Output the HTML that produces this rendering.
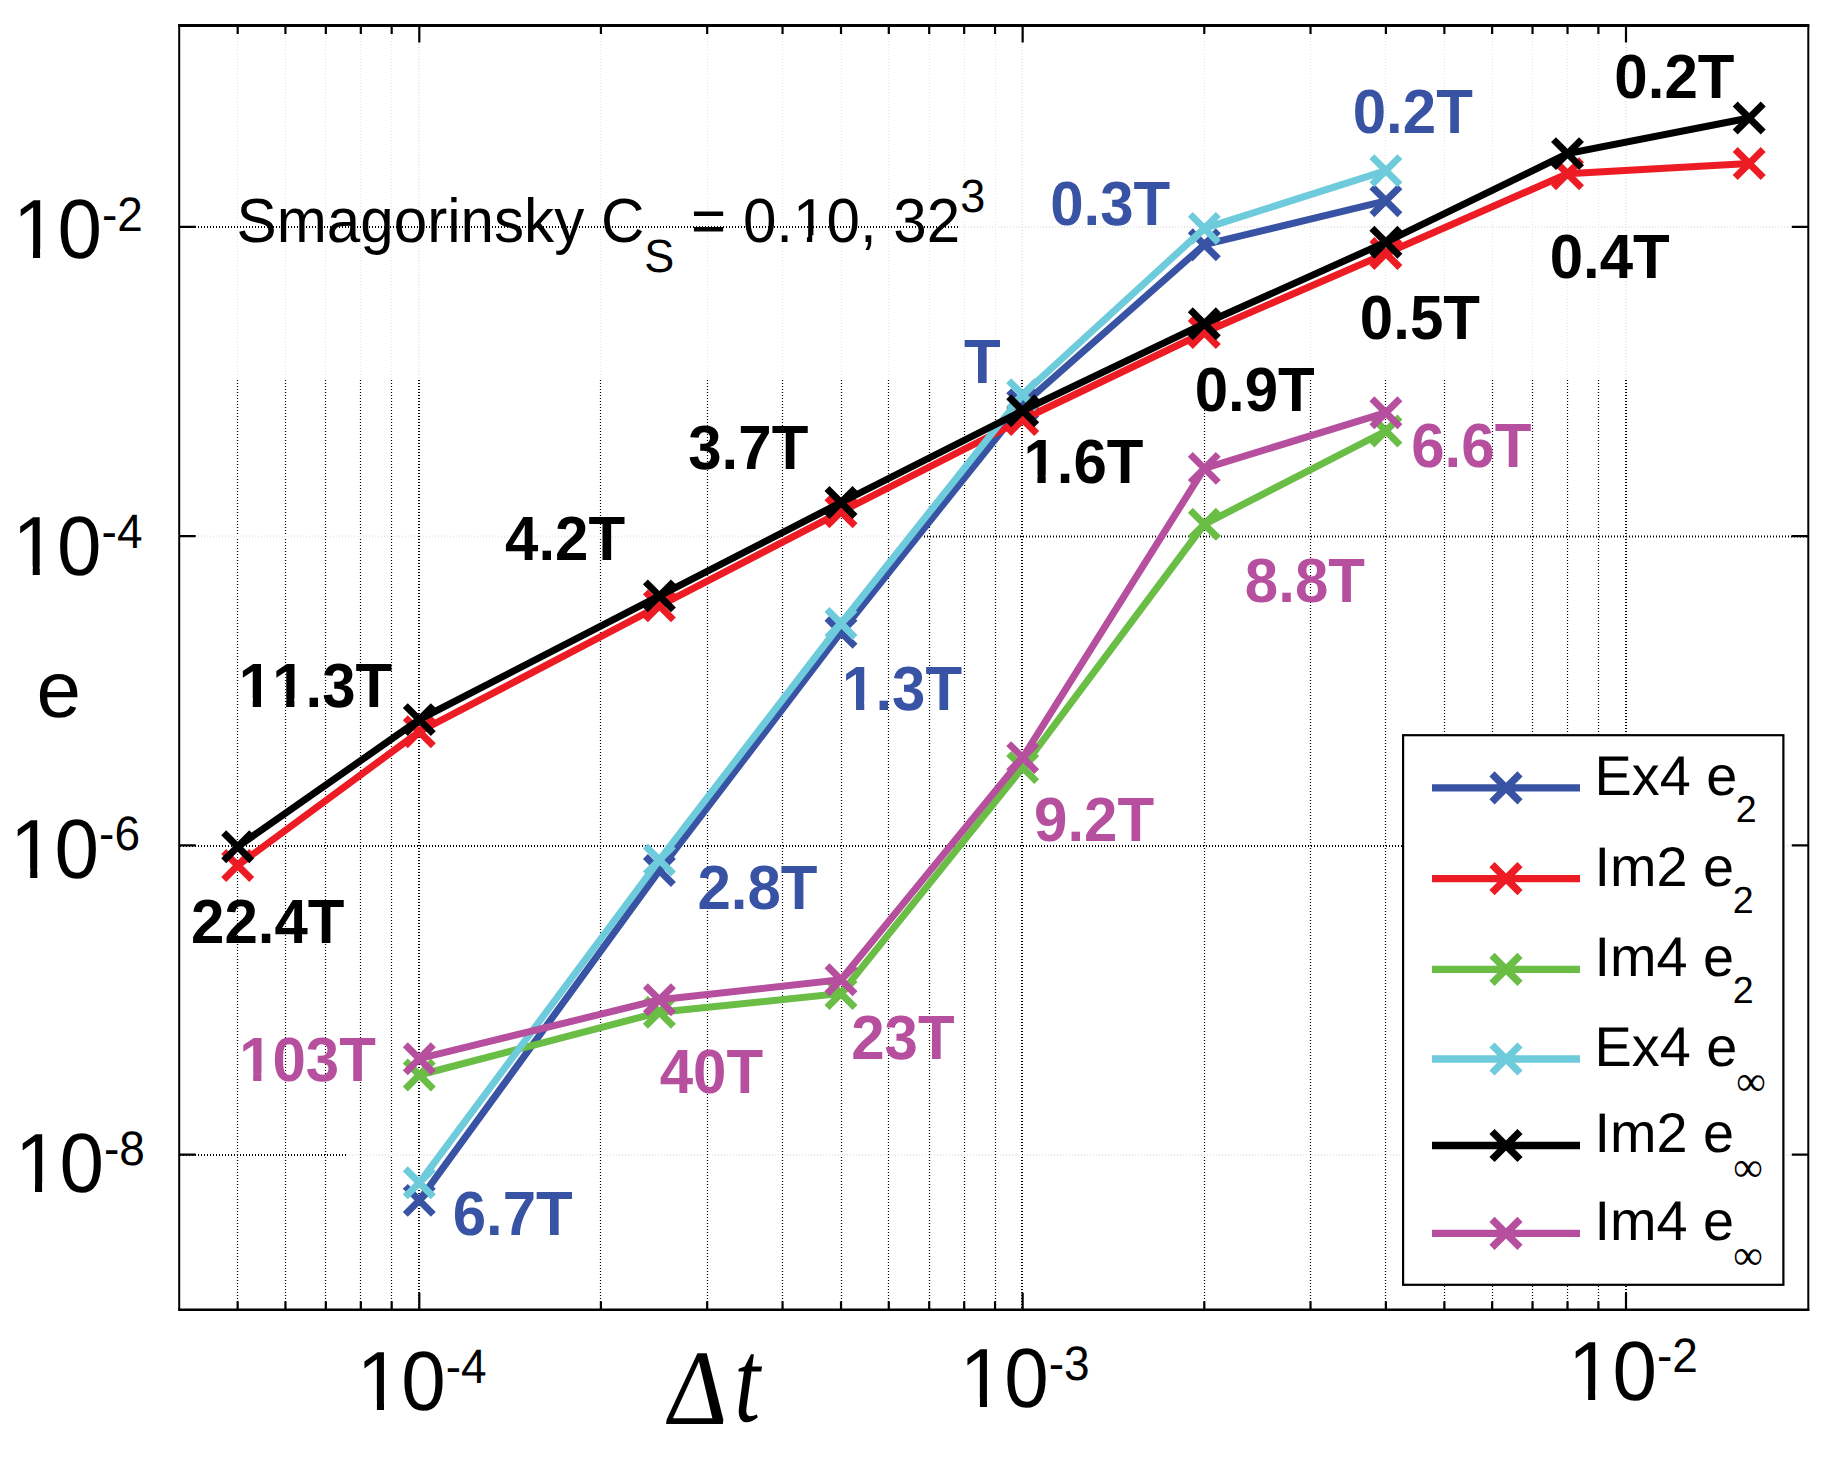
<!DOCTYPE html>
<html lang="en"><head><meta charset="utf-8"><title>Temporal error convergence</title>
<style>
html,body{margin:0;padding:0;background:#fff;}
body{width:1833px;height:1460px;overflow:hidden;}
svg{display:block;}
text{font-family:"Liberation Sans",sans-serif;fill:#000;font-kerning:none;font-feature-settings:"kern" 0,"liga" 0;text-rendering:geometricPrecision;}
.b{font-weight:bold;font-size:60px;}
.tk{font-size:80px;}
.sp{font-size:46px;}
.lg{font-size:55.8px;}
.sb{font-size:37.6px;}
.ser{font-family:"Liberation Serif",serif;}
</style></head><body>
<svg width="1833" height="1460" viewBox="0 0 1833 1460">
<rect x="0" y="0" width="1833" height="1460" fill="#fff"/>
<g fill="none" stroke-dasharray="1 2">
<path d="M237.5 26V380" stroke="#e8e8e8" stroke-width="1.2"/>
<path d="M237.5 380V1309" stroke="#000" stroke-width="1.2"/>
<path d="M285.5 26V380" stroke="#e8e8e8" stroke-width="1.2"/>
<path d="M285.5 380V1309" stroke="#000" stroke-width="1.2"/>
<path d="M325.5 26V380" stroke="#e8e8e8" stroke-width="1.2"/>
<path d="M325.5 380V1309" stroke="#000" stroke-width="1.2"/>
<path d="M360.5 26V380" stroke="#e8e8e8" stroke-width="1.2"/>
<path d="M360.5 380V1309" stroke="#000" stroke-width="1.2"/>
<path d="M391.5 26V380" stroke="#e8e8e8" stroke-width="1.2"/>
<path d="M391.5 380V1309" stroke="#000" stroke-width="1.2"/>
<path d="M600.5 26V380" stroke="#e8e8e8" stroke-width="1.2"/>
<path d="M600.5 380V1309" stroke="#000" stroke-width="1.2"/>
<path d="M707.5 26V380" stroke="#e8e8e8" stroke-width="1.2"/>
<path d="M707.5 380V1309" stroke="#000" stroke-width="1.2"/>
<path d="M782.5 26V380" stroke="#e8e8e8" stroke-width="1.2"/>
<path d="M782.5 380V1309" stroke="#000" stroke-width="1.2"/>
<path d="M841.5 26V380" stroke="#e8e8e8" stroke-width="1.2"/>
<path d="M841.5 380V1309" stroke="#000" stroke-width="1.2"/>
<path d="M888.5 26V380" stroke="#e8e8e8" stroke-width="1.2"/>
<path d="M888.5 380V1309" stroke="#000" stroke-width="1.2"/>
<path d="M929.5 26V380" stroke="#e8e8e8" stroke-width="1.2"/>
<path d="M929.5 380V1309" stroke="#000" stroke-width="1.2"/>
<path d="M964.5 26V380" stroke="#e8e8e8" stroke-width="1.2"/>
<path d="M964.5 380V1309" stroke="#000" stroke-width="1.2"/>
<path d="M995.5 26V380" stroke="#e8e8e8" stroke-width="1.2"/>
<path d="M995.5 380V1309" stroke="#000" stroke-width="1.2"/>
<path d="M1204.5 26V380" stroke="#e8e8e8" stroke-width="1.2"/>
<path d="M1204.5 380V1309" stroke="#000" stroke-width="1.2"/>
<path d="M1310.5 26V380" stroke="#e8e8e8" stroke-width="1.2"/>
<path d="M1310.5 380V1309" stroke="#000" stroke-width="1.2"/>
<path d="M1385.5 26V380" stroke="#e8e8e8" stroke-width="1.2"/>
<path d="M1385.5 380V1309" stroke="#000" stroke-width="1.2"/>
<path d="M1444.5 26V380" stroke="#e8e8e8" stroke-width="1.2"/>
<path d="M1444.5 380V1309" stroke="#000" stroke-width="1.2"/>
<path d="M1492.5 26V380" stroke="#e8e8e8" stroke-width="1.2"/>
<path d="M1492.5 380V1309" stroke="#000" stroke-width="1.2"/>
<path d="M1532.5 26V380" stroke="#e8e8e8" stroke-width="1.2"/>
<path d="M1532.5 380V1309" stroke="#000" stroke-width="1.2"/>
<path d="M1567.5 26V380" stroke="#e8e8e8" stroke-width="1.2"/>
<path d="M1567.5 380V1309" stroke="#000" stroke-width="1.2"/>
<path d="M1598.5 26V380" stroke="#e8e8e8" stroke-width="1.2"/>
<path d="M1598.5 380V1309" stroke="#000" stroke-width="1.2"/>
<path d="M419.0 26V380" stroke="#e8e8e8" stroke-width="2.0"/>
<path d="M419.0 380V1309" stroke="#000" stroke-width="2.0"/>
<path d="M1022.0 26V380" stroke="#e8e8e8" stroke-width="2.0"/>
<path d="M1022.0 380V1309" stroke="#000" stroke-width="2.0"/>
<path d="M1626.0 26V380" stroke="#e8e8e8" stroke-width="2.0"/>
<path d="M1626.0 380V1309" stroke="#000" stroke-width="2.0"/>
<path d="M180 227.0H959" stroke="#000" stroke-width="2"/>
<path d="M959 227.0H1808" stroke="#e8e8e8" stroke-width="2"/>
<path d="M180 536.5H924" stroke="#e8e8e8" stroke-width="2"/>
<path d="M924 536.5H1808" stroke="#000" stroke-width="2"/>
<path d="M180 846.0H1403" stroke="#000" stroke-width="2"/>
<path d="M1784 846.0H1808" stroke="#e8e8e8" stroke-width="2"/>
<path d="M180 1155.0H346" stroke="#000" stroke-width="2"/>
<path d="M346 1155.0H1808" stroke="#e8e8e8" stroke-width="2"/>
</g>
<g stroke="#3953a4" stroke-width="7.0" fill="none" stroke-linejoin="miter">
<path d="M419.3 1200.4L659.4 870.5L841.0 632.2L1022.7 404.9L1204.3 244.7L1385.9 200.8"/>
<path d="M405.3 1186.4l28.0 28.0M405.3 1214.4l28.0 -28.0M645.4 856.5l28.0 28.0M645.4 884.5l28.0 -28.0M827.0 618.2l28.0 28.0M827.0 646.2l28.0 -28.0M1008.7 390.9l28.0 28.0M1008.7 418.9l28.0 -28.0M1190.3 230.7l28.0 28.0M1190.3 258.7l28.0 -28.0M1371.9 186.8l28.0 28.0M1371.9 214.8l28.0 -28.0"/>
</g>
<g stroke="#ed1c24" stroke-width="7.0" fill="none" stroke-linejoin="miter">
<path d="M237.7 865.5L419.3 731.7L659.4 605.9L841.0 511.8L1022.7 419.5L1204.3 332.5L1385.9 253.5L1567.5 173.7L1749.2 163.5"/>
<path d="M223.7 851.5l28.0 28.0M223.7 879.5l28.0 -28.0M405.3 717.7l28.0 28.0M405.3 745.7l28.0 -28.0M645.4 591.9l28.0 28.0M645.4 619.9l28.0 -28.0M827.0 497.8l28.0 28.0M827.0 525.8l28.0 -28.0M1008.7 405.5l28.0 28.0M1008.7 433.5l28.0 -28.0M1190.3 318.5l28.0 28.0M1190.3 346.5l28.0 -28.0M1371.9 239.5l28.0 28.0M1371.9 267.5l28.0 -28.0M1553.5 159.7l28.0 28.0M1553.5 187.7l28.0 -28.0M1735.2 149.5l28.0 28.0M1735.2 177.5l28.0 -28.0"/>
</g>
<g stroke="#6abd45" stroke-width="7.0" fill="none" stroke-linejoin="miter">
<path d="M419.3 1075.0L659.4 1012.3L841.0 993.5L1022.7 767.6L1204.3 524.3L1385.9 431.0"/>
<path d="M405.3 1061.0l28.0 28.0M405.3 1089.0l28.0 -28.0M645.4 998.3l28.0 28.0M645.4 1026.3l28.0 -28.0M827.0 979.5l28.0 28.0M827.0 1007.5l28.0 -28.0M1008.7 753.6l28.0 28.0M1008.7 781.6l28.0 -28.0M1190.3 510.3l28.0 28.0M1190.3 538.3l28.0 -28.0M1371.9 417.0l28.0 28.0M1371.9 445.0l28.0 -28.0"/>
</g>
<g stroke="#6dcbdb" stroke-width="7.0" fill="none" stroke-linejoin="miter">
<path d="M419.3 1182.8L659.4 860.0L841.0 623.5L1022.7 394.7L1204.3 228.4L1385.9 170.6"/>
<path d="M405.3 1168.8l28.0 28.0M405.3 1196.8l28.0 -28.0M645.4 846.0l28.0 28.0M645.4 874.0l28.0 -28.0M827.0 609.5l28.0 28.0M827.0 637.5l28.0 -28.0M1008.7 380.7l28.0 28.0M1008.7 408.7l28.0 -28.0M1190.3 214.4l28.0 28.0M1190.3 242.4l28.0 -28.0M1371.9 156.6l28.0 28.0M1371.9 184.6l28.0 -28.0"/>
</g>
<g stroke="#000000" stroke-width="7.0" fill="none" stroke-linejoin="miter">
<path d="M237.7 846.7L419.3 719.6L659.4 595.9L841.0 502.5L1022.7 410.7L1204.3 323.7L1385.9 242.2L1567.5 153.6L1749.2 118.0"/>
<path d="M223.7 832.7l28.0 28.0M223.7 860.7l28.0 -28.0M405.3 705.6l28.0 28.0M405.3 733.6l28.0 -28.0M645.4 581.9l28.0 28.0M645.4 609.9l28.0 -28.0M827.0 488.5l28.0 28.0M827.0 516.5l28.0 -28.0M1008.7 396.7l28.0 28.0M1008.7 424.7l28.0 -28.0M1190.3 309.7l28.0 28.0M1190.3 337.7l28.0 -28.0M1371.9 228.2l28.0 28.0M1371.9 256.2l28.0 -28.0M1553.5 139.6l28.0 28.0M1553.5 167.6l28.0 -28.0M1735.2 104.0l28.0 28.0M1735.2 132.0l28.0 -28.0"/>
</g>
<g stroke="#b64f9e" stroke-width="7.0" fill="none" stroke-linejoin="miter">
<path d="M419.3 1058.7L659.4 999.8L841.0 979.7L1022.7 757.6L1204.3 468.4L1385.9 412.7"/>
<path d="M405.3 1044.7l28.0 28.0M405.3 1072.7l28.0 -28.0M645.4 985.8l28.0 28.0M645.4 1013.8l28.0 -28.0M827.0 965.7l28.0 28.0M827.0 993.7l28.0 -28.0M1008.7 743.6l28.0 28.0M1008.7 771.6l28.0 -28.0M1190.3 454.4l28.0 28.0M1190.3 482.4l28.0 -28.0M1371.9 398.7l28.0 28.0M1371.9 426.7l28.0 -28.0"/>
</g>
<g stroke="#000" fill="none">
<path d="M237.67 1309.7v-8.5M237.67 25.4v8.5M285.45 1309.7v-8.5M285.45 25.4v8.5M325.84 1309.7v-8.5M325.84 25.4v8.5M360.83 1309.7v-8.5M360.83 25.4v8.5M391.69 1309.7v-8.5M391.69 25.4v8.5M600.93 1309.7v-8.5M600.93 25.4v8.5M707.17 1309.7v-8.5M707.17 25.4v8.5M782.55 1309.7v-8.5M782.55 25.4v8.5M841.02 1309.7v-8.5M841.02 25.4v8.5M888.80 1309.7v-8.5M888.80 25.4v8.5M929.19 1309.7v-8.5M929.19 25.4v8.5M964.18 1309.7v-8.5M964.18 25.4v8.5M995.04 1309.7v-8.5M995.04 25.4v8.5M1204.28 1309.7v-8.5M1204.28 25.4v8.5M1310.52 1309.7v-8.5M1310.52 25.4v8.5M1385.90 1309.7v-8.5M1385.90 25.4v8.5M1444.37 1309.7v-8.5M1444.37 25.4v8.5M1492.15 1309.7v-8.5M1492.15 25.4v8.5M1532.54 1309.7v-8.5M1532.54 25.4v8.5M1567.53 1309.7v-8.5M1567.53 25.4v8.5M1598.39 1309.7v-8.5M1598.39 25.4v8.5M419.30 1309.7v-17M419.30 25.4v17M1022.65 1309.7v-17M1022.65 25.4v17M1626.00 1309.7v-17M1626.00 25.4v17M179.2 226.80h16.5M1808.3 226.80h-16.5M179.2 536.10h16.5M1808.3 536.10h-16.5M179.2 845.40h16.5M1808.3 845.40h-16.5M179.2 1154.70h16.5M1808.3 1154.70h-16.5" stroke-width="2.2"/>
<path d="M178.1 25.4H1809.4" stroke-width="3"/>
<path d="M178.1 1309.7H1809.4" stroke-width="2.5"/>
<path d="M179.2 25.4V1309.7M1808.3 25.4V1309.7" stroke-width="2"/>
</g>
<text class="tk" clip-path="url(#c0)" transform="translate(12.9 258.0) scale(1 1.050)" x="0" y="0">10<tspan class="sp" dy="-25.9">-2</tspan></text>
<text class="tk" clip-path="url(#c1)" transform="translate(12.6 575.3) scale(1 1.050)" x="0" y="0">10<tspan class="sp" dy="-25.9">-4</tspan></text>
<text class="tk" clip-path="url(#c2)" transform="translate(10.1 877.6) scale(1 1.050)" x="0" y="0">10<tspan class="sp" dy="-25.9">-6</tspan></text>
<text class="tk" clip-path="url(#c3)" transform="translate(14.9 1192.0) scale(1 1.050)" x="0" y="0">10<tspan class="sp" dy="-25.9">-8</tspan></text>
<text class="tk" clip-path="url(#c4)" transform="translate(356.8 1410.1) scale(1 1.050)" x="0" y="0">10<tspan class="sp" dy="-25.9">-4</tspan></text>
<text class="tk" clip-path="url(#c5)" transform="translate(959.8 1407.1) scale(1 1.050)" x="0" y="0">10<tspan class="sp" dy="-25.9">-3</tspan></text>
<text class="tk" clip-path="url(#c6)" transform="translate(1568.0 1399.6) scale(1 1.050)" x="0" y="0">10<tspan class="sp" dy="-25.9">-2</tspan></text>
<text x="36.5" y="716.6" style="font-size:80px">e</text>
<text class="ser" transform="translate(662.15 1423.8) skewX(-6.5) scale(0.963 1.029)" x="0" y="0" style="font-size:104px">Δ</text>
<text class="ser" transform="translate(734.3 1421.1) scale(0.896 1.14)" x="0" y="0" style="font-size:104px;font-style:italic">t</text>
<text clip-path="url(#c7)" transform="translate(236.6 242.1) scale(1 1.035)" x="0" y="0" style="font-size:60.15px">Smagorinsky C<tspan dy="28.5" style="font-size:45px">S</tspan><tspan dy="-28.5"> = 0.10, 32</tspan><tspan dy="-29.0" style="font-size:45px">3</tspan></text>
<text class="b" text-anchor="end" transform="translate(1734.4 98.1) scale(1 1.040)" x="0" y="0" style="fill:#000000">0.2T</text>
<text class="b" text-anchor="end" transform="translate(1472.8 133.0) scale(1 1.040)" x="0" y="0" style="fill:#3953a4">0.2T</text>
<text class="b" text-anchor="end" transform="translate(1170.2 224.6) scale(1 1.040)" x="0" y="0" style="fill:#3953a4">0.3T</text>
<text class="b" text-anchor="end" transform="translate(1669.7 278.4) scale(1 1.040)" x="0" y="0" style="fill:#000000">0.4T</text>
<text class="b" text-anchor="end" transform="translate(1479.9 338.5) scale(1 1.040)" x="0" y="0" style="fill:#000000">0.5T</text>
<text class="b" text-anchor="end" transform="translate(1000.7 382.7) scale(1 1.040)" x="0" y="0" style="fill:#3953a4">T</text>
<text class="b" text-anchor="end" transform="translate(1314.7 411.4) scale(1 1.040)" x="0" y="0" style="fill:#000000">0.9T</text>
<text class="b" clip-path="url(#c8)" text-anchor="end" transform="translate(1143.5 483.4) scale(1 1.040)" x="0" y="0" style="fill:#000000">1.6T</text>
<text class="b" text-anchor="end" transform="translate(808.3 469.1) scale(1 1.040)" x="0" y="0" style="fill:#000000">3.7T</text>
<text class="b" text-anchor="end" transform="translate(625.1 560.2) scale(1 1.040)" x="0" y="0" style="fill:#000000">4.2T</text>
<text class="b" clip-path="url(#c9)" text-anchor="end" transform="translate(392.2 706.8) scale(1 1.040)" x="0" y="0" style="fill:#000000">11.3T</text>
<text class="b" text-anchor="end" transform="translate(344.5 942.8) scale(1 1.040)" x="0" y="0" style="fill:#000000">22.4T</text>
<text class="b" clip-path="url(#c10)" text-anchor="end" transform="translate(962.1 710.0) scale(1 1.040)" x="0" y="0" style="fill:#3953a4">1.3T</text>
<text class="b" text-anchor="end" transform="translate(817.5 908.7) scale(1 1.040)" x="0" y="0" style="fill:#3953a4">2.8T</text>
<text class="b" text-anchor="end" transform="translate(572.7 1235.0) scale(1 1.040)" x="0" y="0" style="fill:#3953a4">6.7T</text>
<text class="b" text-anchor="end" transform="translate(1531.3 466.6) scale(1 1.040)" x="0" y="0" style="fill:#b64f9e">6.6T</text>
<text class="b" text-anchor="end" transform="translate(1364.9 602.1) scale(1 1.040)" x="0" y="0" style="fill:#b64f9e">8.8T</text>
<text class="b" text-anchor="end" transform="translate(1154.1 841.2) scale(1 1.040)" x="0" y="0" style="fill:#b64f9e">9.2T</text>
<text class="b" text-anchor="end" transform="translate(954.6 1058.7) scale(1 1.040)" x="0" y="0" style="fill:#b64f9e">23T</text>
<text class="b" text-anchor="end" transform="translate(763.1 1093.0) scale(1 1.040)" x="0" y="0" style="fill:#b64f9e">40T</text>
<text class="b" clip-path="url(#c11)" text-anchor="end" transform="translate(375.9 1081.3) scale(1 1.040)" x="0" y="0" style="fill:#b64f9e">103T</text>
<rect x="1403.1" y="735.2" width="380.3" height="549.6" fill="#fff" stroke="#000" stroke-width="2.2"/>
<path d="M1432 787.8H1580M1492.0 773.8l28.0 28.0M1492.0 801.8l28.0 -28.0" stroke="#3953a4" stroke-width="7.3" fill="none"/>
<text class="lg" x="1594.6" y="794.7">Ex4 e<tspan class="sb" dx="-1.5" dy="27">2</tspan></text>
<path d="M1432 878.7H1580M1492.0 864.7l28.0 28.0M1492.0 892.7l28.0 -28.0" stroke="#ed1c24" stroke-width="7.3" fill="none"/>
<text class="lg" x="1594.6" y="885.6">Im2 e<tspan class="sb" dx="-1.5" dy="27">2</tspan></text>
<path d="M1432 969.3H1580M1492.0 955.3l28.0 28.0M1492.0 983.3l28.0 -28.0" stroke="#6abd45" stroke-width="7.3" fill="none"/>
<text class="lg" x="1594.6" y="976.2">Im4 e<tspan class="sb" dx="-1.5" dy="27">2</tspan></text>
<path d="M1432 1059.0H1580M1492.0 1045.0l28.0 28.0M1492.0 1073.0l28.0 -28.0" stroke="#6dcbdb" stroke-width="7.3" fill="none"/>
<text class="lg" x="1594.6" y="1065.9">Ex4 e<tspan class="ser" dy="28.6" dx="-1" style="font-size:41.5px">∞</tspan></text>
<path d="M1432 1145.5H1580M1492.0 1131.5l28.0 28.0M1492.0 1159.5l28.0 -28.0" stroke="#000000" stroke-width="7.3" fill="none"/>
<text class="lg" x="1594.6" y="1152.4">Im2 e<tspan class="ser" dy="28.6" dx="-1" style="font-size:41.5px">∞</tspan></text>
<path d="M1432 1233.4H1580M1492.0 1219.4l28.0 28.0M1492.0 1247.4l28.0 -28.0" stroke="#b64f9e" stroke-width="7.3" fill="none"/>
<text class="lg" x="1594.6" y="1240.3">Im4 e<tspan class="ser" dy="28.6" dx="-1" style="font-size:41.5px">∞</tspan></text>
<defs><clipPath id="c0"><path clip-rule="evenodd" d="M-900 -400H900V300H-900ZM3.52 -8.71H20.12V3.52H3.52ZM27.19 -8.71H43.16V3.52H27.19Z"/></clipPath><clipPath id="c1"><path clip-rule="evenodd" d="M-900 -400H900V300H-900ZM3.52 -8.71H20.12V3.52H3.52ZM27.19 -8.71H43.16V3.52H27.19Z"/></clipPath><clipPath id="c2"><path clip-rule="evenodd" d="M-900 -400H900V300H-900ZM3.52 -8.71H20.12V3.52H3.52ZM27.19 -8.71H43.16V3.52H27.19Z"/></clipPath><clipPath id="c3"><path clip-rule="evenodd" d="M-900 -400H900V300H-900ZM3.52 -8.71H20.12V3.52H3.52ZM27.19 -8.71H43.16V3.52H27.19Z"/></clipPath><clipPath id="c4"><path clip-rule="evenodd" d="M-900 -400H900V300H-900ZM3.52 -8.71H20.12V3.52H3.52ZM27.19 -8.71H43.16V3.52H27.19Z"/></clipPath><clipPath id="c5"><path clip-rule="evenodd" d="M-900 -400H900V300H-900ZM3.52 -8.71H20.12V3.52H3.52ZM27.19 -8.71H43.16V3.52H27.19Z"/></clipPath><clipPath id="c6"><path clip-rule="evenodd" d="M-900 -400H900V300H-900ZM3.52 -8.71H20.12V3.52H3.52ZM27.19 -8.71H43.16V3.52H27.19Z"/></clipPath><clipPath id="c7"><path clip-rule="evenodd" d="M-900 -400H900V300H-900ZM557.86 -6.53H570.31V2.64H557.86ZM575.61 -6.53H587.59V2.64H575.61Z"/></clipPath><clipPath id="c8"><path clip-rule="evenodd" d="M-900 -400H900V300H-900ZM-118.30 -8.17H-106.05V2.64H-118.30ZM-97.82 -8.17H-86.95V2.64H-97.82Z"/></clipPath><clipPath id="c9"><path clip-rule="evenodd" d="M-900 -400H900V300H-900ZM-151.67 -8.17H-139.42V2.64H-151.67ZM-131.19 -8.17H-120.32V2.64H-131.19ZM-118.30 -8.17H-106.05V2.64H-118.30ZM-97.82 -8.17H-86.95V2.64H-97.82Z"/></clipPath><clipPath id="c10"><path clip-rule="evenodd" d="M-900 -400H900V300H-900ZM-118.30 -8.17H-106.05V2.64H-118.30ZM-97.82 -8.17H-86.95V2.64H-97.82Z"/></clipPath><clipPath id="c11"><path clip-rule="evenodd" d="M-900 -400H900V300H-900ZM-135.00 -8.17H-122.75V2.64H-135.00ZM-114.52 -8.17H-103.65V2.64H-114.52Z"/></clipPath></defs>
</svg>
</body></html>
